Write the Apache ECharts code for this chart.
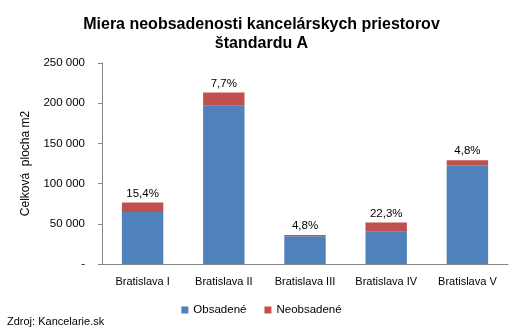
<!DOCTYPE html>
<html>
<head>
<meta charset="utf-8">
<script src="https://cdn.jsdelivr.net/npm/echarts@6/dist/echarts.min.js"></script>
<style>
  html, body { margin: 0; padding: 0; background: #fff; }
  #chart { width: 523px; height: 330px; }
</style>
</head>
<body>
<div id="chart"></div>
<script>
// Office space, grade A, by district of Bratislava
const districts = ['Bratislava I', 'Bratislava II', 'Bratislava III', 'Bratislava IV', 'Bratislava V'];
// total stock in m2
const totalArea = [76600, 213400, 36200, 51600, 129100];
// vacancy rate in percent (shown above each bar)
const vacancyRate = [15.4, 7.7, 4.8, 22.3, 4.8];
const yTicks = [0, 50000, 100000, 150000, 200000, 250000];

const vacant = totalArea.map((t, i) => Math.round(t * vacancyRate[i] / 100));
const occupied = totalArea.map((t, i) => t - vacant[i]);

const fmtThousands = v => v === 0 ? '-' : String(v).replace(/\B(?=(\d{3})+(?!\d))/g, ' ');
const fmtPct = v => v.toFixed(1).replace('.', ',') + '%';

const chart = echarts.init(document.getElementById('chart'), null, { renderer: 'canvas' });
chart.setOption({
  animation: false,
  textStyle: { fontFamily: 'Liberation Sans, Arial, sans-serif' },
  title: {
    text: 'Miera neobsadenosti kancelárskych priestorov\nštandardu A',
    left: 'center',
    top: 10,
    textStyle: { fontSize: 16, fontWeight: 'bold', color: '#000', lineHeight: 19, fontFamily: 'Liberation Sans, Arial, sans-serif' }
  },
  graphic: [{
    type: 'text',
    left: 7,
    top: 316,
    style: { text: 'Zdroj: Kancelarie.sk', fontSize: 11, fill: '#000', font: '11px Liberation Sans, Arial, sans-serif' }
  }],
  legend: {
    bottom: 9,
    left: 'center',
    itemWidth: 7,
    itemHeight: 7,
    itemGap: 18,
    icon: 'rect',
    textStyle: { fontSize: 11.5, color: '#000' },
    data: ['Obsadené', 'Neobsadené']
  },
  grid: { left: 102, right: 15, top: 63, bottom: 66, containLabel: false },
  xAxis: {
    type: 'category',
    data: districts,
    axisLine: { lineStyle: { color: '#868686', width: 1 } },
    axisTick: { show: false },
    axisLabel: { fontSize: 11, color: '#000', margin: 12 }
  },
  yAxis: {
    type: 'value',
    min: yTicks[0],
    max: yTicks[yTicks.length - 1],
    interval: yTicks[1] - yTicks[0],
    name: 'Celková  plocha m2',
    nameLocation: 'middle',
    nameGap: 70,
    nameTextStyle: { fontSize: 12, color: '#000' },
    axisLine: { show: true, lineStyle: { color: '#868686' } },
    axisTick: { show: true, length: 4, lineStyle: { color: '#868686' } },
    splitLine: { show: false },
    axisLabel: { fontSize: 11.5, color: '#000', margin: 17, formatter: fmtThousands }
  },
  series: [
    {
      name: 'Obsadené',
      type: 'bar',
      stack: 'plocha',
      barWidth: '51%',
      itemStyle: { color: '#4F81BD' },
      data: occupied
    },
    {
      name: 'Neobsadené',
      type: 'bar',
      stack: 'plocha',
      itemStyle: { color: '#C0504D' },
      label: {
        show: true,
        position: 'top',
        distance: 3,
        fontSize: 11.5,
        color: '#000',
        formatter: p => fmtPct(vacancyRate[p.dataIndex])
      },
      data: vacant
    }
  ]
});
</script>
</body>
</html>
